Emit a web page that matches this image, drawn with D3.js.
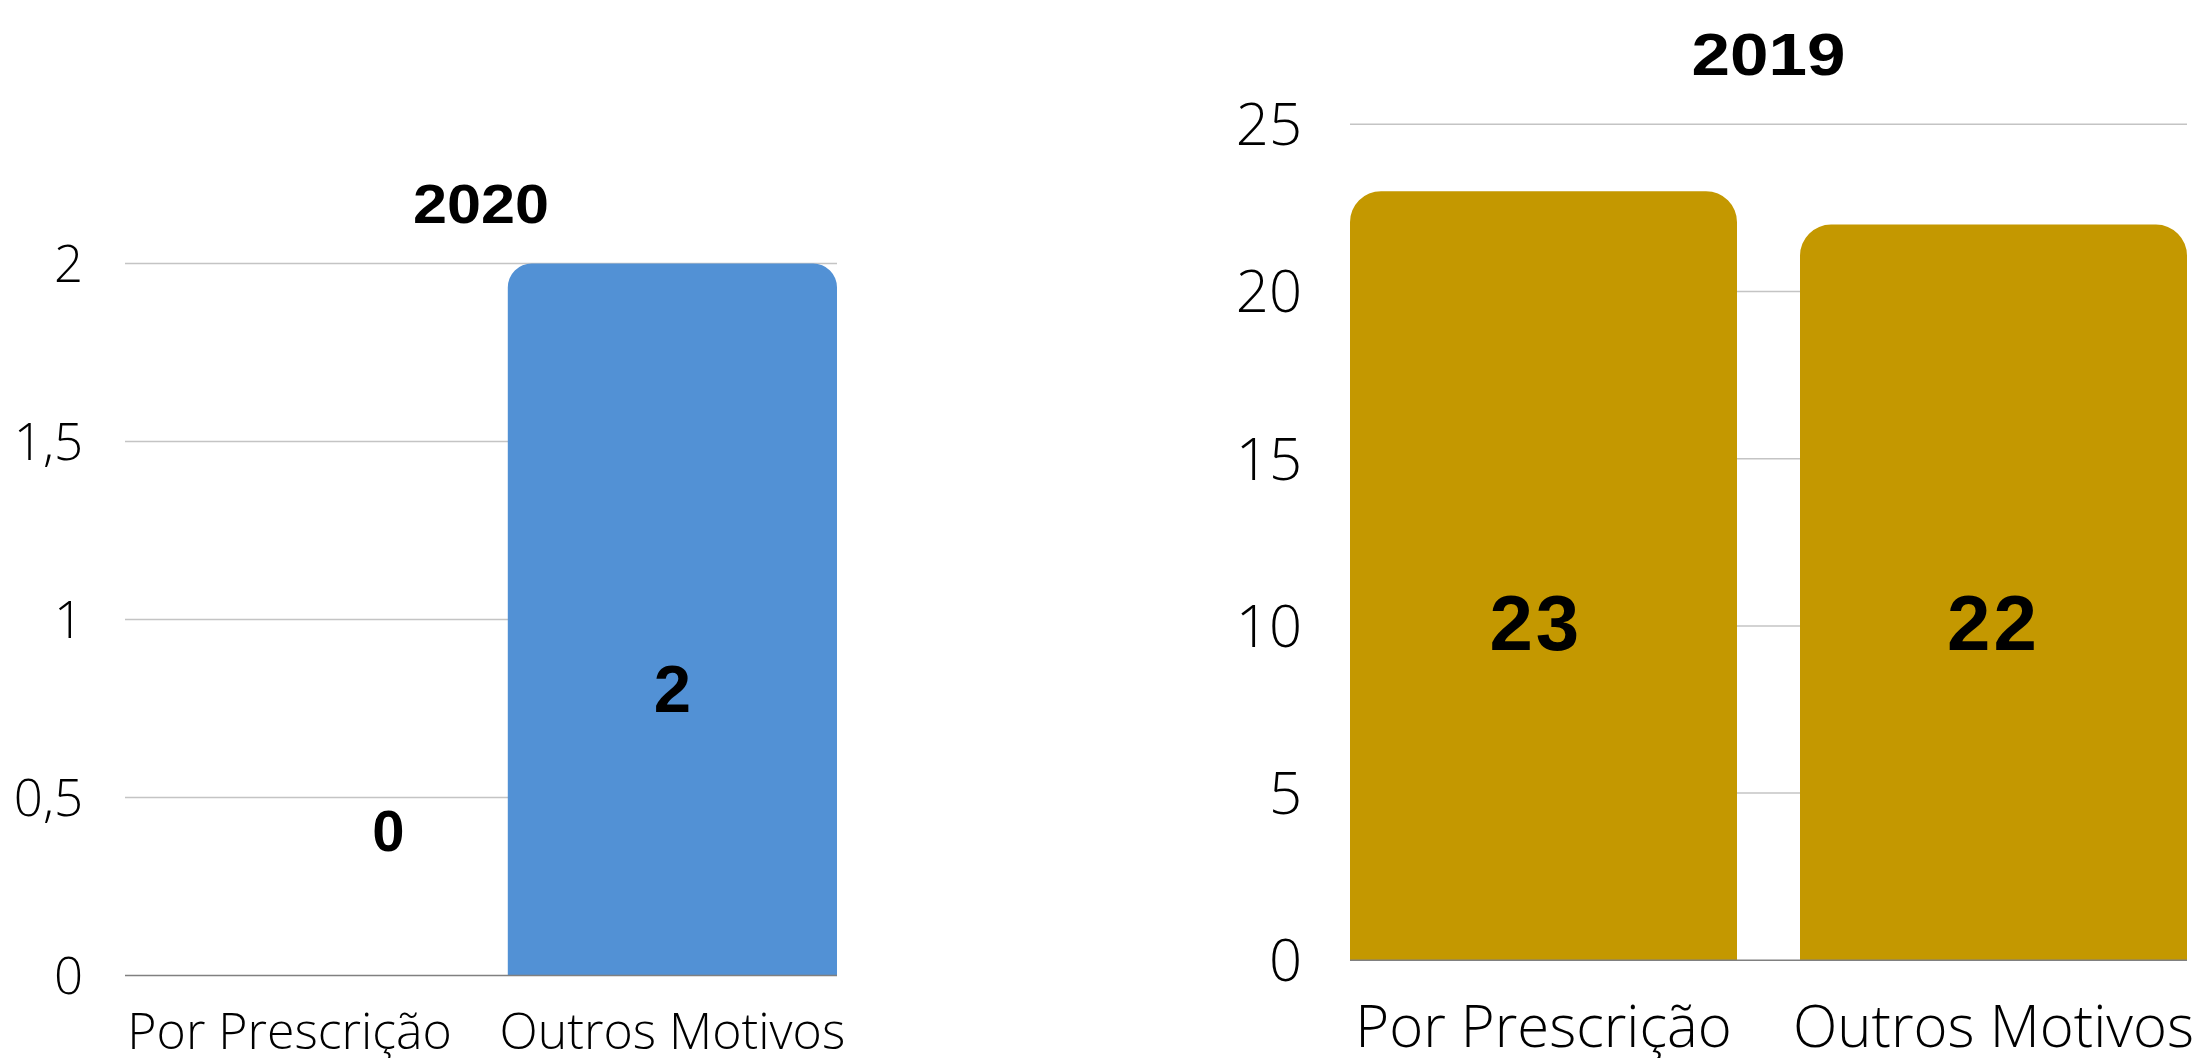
<!DOCTYPE html>
<html>
<head>
<meta charset="utf-8">
<script src="https://cdn.jsdelivr.net/npm/d3@7"></script>
<style>
  html, body { margin: 0; padding: 0; background: #ffffff; }
  svg { display: block; }
  .tick-label { font-family: "Open Sans", sans-serif; font-weight: 300; fill: #000; }
  .title, .value { font-family: "Liberation Sans", Arial, sans-serif; font-weight: 700; fill: #000; }
</style>
</head>
<body>
<svg id="chart" width="2208" height="1058"></svg>
<script>
// ---- data ----
const categories = ["Por Prescrição", "Outros Motivos"];
const values2020 = [0, 2];
const values2019 = [23, 22];
const ticks2020 = [0, 0.5, 1, 1.5, 2];
const tickLabels2020 = ["0", "0,5", "1", "1,5", "2"];
const ticks2019 = [0, 5, 10, 15, 20, 25];
const tickLabels2019 = ["0", "5", "10", "15", "20", "25"];

const svg = d3.select("#chart");

function roundedTopBar(x, y, w, h, r) {
  if (h <= 0) return "";
  r = Math.min(r, w / 2, h);
  return `M${x},${y + h}V${y + r}A${r},${r} 0 0 1 ${x + r},${y}H${x + w - r}A${r},${r} 0 0 1 ${x + w},${y + r}V${y + h}Z`;
}

function drawChart(cfg) {
  const g = svg.append("g");
  const x = d3.scaleBand().domain(cfg.categories).range([cfg.x0, cfg.x1])
    .paddingInner(0.14).paddingOuter(0);
  const y = d3.scaleLinear().domain([0, cfg.yMax]).range([cfg.y0, cfg.y1]);

  // gridlines
  g.append("g").selectAll("line").data(cfg.ticks.filter(t => t > 0)).join("line")
    .attr("x1", cfg.x0).attr("x2", cfg.x1)
    .attr("y1", d => y(d)).attr("y2", d => y(d))
    .attr("stroke", "#c4c4c4").attr("stroke-width", 1.5);

  // y axis tick labels
  const yAxis = d3.axisLeft(y).tickValues(cfg.ticks)
    .tickFormat((d, i) => cfg.tickLabels[i]).tickSize(0).tickPadding(cfg.tickPad);
  const ya = g.append("g").attr("transform", `translate(${cfg.x0},0)`).call(yAxis);
  ya.select(".domain").remove();
  ya.selectAll("text").attr("class", "tick-label")
    .attr("font-size", cfg.tickFont).attr("dy", "0.35em")
    .style("font-family", "'Open Sans', sans-serif").style("font-weight", 300).attr("fill", "#000");

  // bars
  g.append("g").selectAll("path").data(cfg.values).join("path")
    .attr("d", (d, i) => roundedTopBar(x(cfg.categories[i]), y(d), x.bandwidth(), y(0) - y(d), cfg.radius))
    .attr("fill", cfg.color);

  // baseline
  g.append("line").attr("x1", cfg.x0).attr("x2", cfg.x1)
    .attr("y1", y(0)).attr("y2", y(0)).attr("stroke", "#808080").attr("stroke-width", 1.5);

  // x axis category labels
  const xAxis = d3.axisBottom(x).tickSize(0).tickPadding(0);
  const xa = g.append("g").attr("transform", `translate(0,${cfg.catBaseline})`).call(xAxis);
  xa.select(".domain").remove();
  xa.selectAll("text").attr("class", "tick-label").attr("font-size", cfg.catFont)
    .attr("dy", 0).attr("y", 0)
    .style("font-family", "'Open Sans', sans-serif").style("font-weight", 300).attr("fill", "#000");

  // title
  g.append("text").attr("class", "title")
    .attr("x", (cfg.x0 + cfg.x1) / 2).attr("y", cfg.titleBaseline)
    .attr("text-anchor", "middle").attr("font-size", cfg.titleFont)
    .attr("textLength", cfg.titleLength).attr("lengthAdjust", "spacingAndGlyphs")
    .text(cfg.title);

  // value labels
  g.append("g").selectAll("text").data(cfg.values).join("text")
    .attr("class", "value")
    .attr("x", (d, i) => x(cfg.categories[i]) + x.bandwidth() * cfg.labelFx[i])
    .attr("y", (d, i) => y(cfg.labelAt[i]))
    .attr("text-anchor", "middle")
    .attr("font-size", (d, i) => cfg.valueFont[i])
    .attr("letter-spacing", cfg.valueSpacing)
    .text(d => d);
}

drawChart({
  categories, values: values2020, ticks: ticks2020, tickLabels: tickLabels2020,
  title: "2020", yMax: 2, color: "#5291D5",
  x0: 125, x1: 837, y0: 975.5, y1: 263.5,
  radius: 24, tickFont: 51, tickPad: 42, catFont: 50, catBaseline: 1049,
  titleFont: 56, titleBaseline: 222.5, titleLength: 136,
  labelAt: [0.35, 0.741], labelFx: [0.80, 0.5], valueFont: [58, 67], valueSpacing: 0
});

drawChart({
  categories, values: values2019, ticks: ticks2019, tickLabels: tickLabels2019,
  title: "2019", yMax: 25, color: "#C49800",
  x0: 1350, x1: 2187, y0: 960.3, y1: 124.3,
  radius: 31, tickFont: 58, tickPad: 48, catFont: 58, catBaseline: 1047,
  titleFont: 60, titleBaseline: 75, titleLength: 154,
  labelAt: [9.28, 9.28], labelFx: [0.48, 0.5], valueFont: [78, 78], valueSpacing: 3
});
</script>
</body>
</html>
